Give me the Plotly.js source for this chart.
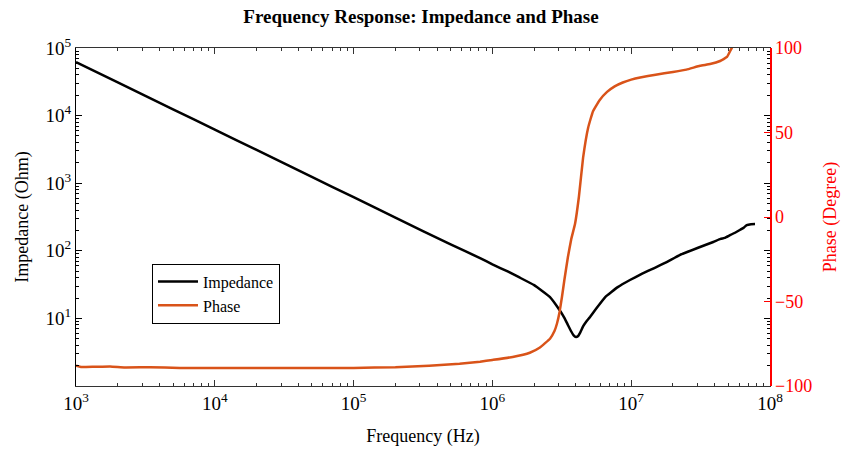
<!DOCTYPE html>
<html>
<head>
<meta charset="utf-8">
<script src="https://cdn.plot.ly/plotly-3.0.1.min.js"></script>
<style>html,body{margin:0;padding:0;background:#fff;}#chart{width:842px;height:454px;}</style>
</head>
<body>
<div id="chart"></div>
<script>
// Impedance magnitude (Ohm) vs frequency (Hz)
const impFreq = [1e3, 2e3, 5e3, 1e4, 2e4, 5e4, 1e5, 2e5, 5e5, 8.15e5, 1.0e6, 1.3e6, 1.58e6, 2.0e6, 2.6e6, 3.07e6, 3.3e6, 3.5e6, 3.7e6, 3.85e6, 4.0e6, 4.15e6, 4.3e6, 4.5e6, 4.75e6, 5.05e6, 5.6e6, 6.5e6, 8.0e6, 9.8e6, 1.2e7, 1.48e7, 1.8e7, 2.25e7, 3.0e7, 3.9e7, 4.4e7, 4.7e7, 5.15e7, 5.6e7, 6.1e7, 6.5e7, 6.8e7, 7.3e7, 7.8e7];
const impVal  = [62000, 31000, 12400, 6200, 3100, 1240, 620, 310, 124, 78, 63, 49, 40, 31, 20.7, 13, 10.2, 8.0, 6.4, 5.6, 5.3, 5.5, 6.2, 7.6, 9.0, 10.5, 14, 20.7, 29, 37, 46, 56, 68, 87, 110, 135, 150, 155, 170, 185, 205, 222, 240, 248, 249];
// Phase (degree) vs frequency (Hz)
const phFreq = [1e3, 1.1e3, 1.37e3, 1.76e3, 2.25e3, 3.4e3, 5.6e3, 1e4, 3e4, 1e5, 2e5, 3.5e5, 5.8e5, 8.15e5, 1e6, 1.4e6, 1.86e6, 2.2e6, 2.6e6, 2.8e6, 2.92e6, 3.05e6, 3.17e6, 3.3e6, 3.5e6, 3.7e6, 3.94e6, 4.2e6, 4.5e6, 4.9e6, 5.3e6, 5.9e6, 6.7e6, 7.6e6, 8.7e6, 1.0e7, 1.16e7, 1.5e7, 2.0e7, 2.5e7, 3.13e7, 3.7e7, 4.37e7, 4.9e7, 5.3e7, 5.8e7, 7.8e7];
const phVal  = [-88.0, -88.8, -88.6, -88.4, -89.0, -88.9, -89.3, -89.4, -89.4, -89.3, -88.9, -88.0, -86.8, -85.6, -84.6, -82.8, -80.3, -77.2, -72.0, -67.5, -63.0, -56.0, -47.3, -37.3, -23.7, -13, -4, 12, 35, 53, 62.5, 69, 74, 77.3, 79.6, 81.3, 82.6, 84.2, 85.8, 87.2, 89.5, 90.5, 92.3, 94.7, 100, 105, 110];

const xTicks = [1e3, 1e4, 1e5, 1e6, 1e7, 1e8];
const xTickText = ['10<sup>3</sup>', '10<sup>4</sup>', '10<sup>5</sup>', '10<sup>6</sup>', '10<sup>7</sup>', '10<sup>8</sup>'];
const yTicks = [1e1, 1e2, 1e3, 1e4, 1e5];
const yTickText = ['10<sup>1</sup>', '10<sup>2</sup>', '10<sup>3</sup>', '10<sup>4</sup>', '10<sup>5</sup>'];
const y2Ticks = [-100, -50, 0, 50, 100];

function minorLog(lo, hi) {
  const out = [];
  for (let e = lo; e < hi; e++) for (let m = 2; m <= 9; m++) out.push(m * Math.pow(10, e));
  return out;
}

const FONT = 'Liberation Serif, Times New Roman, serif';
const ORANGE = '#D95319';
const RED = '#FF0000';

const traces = [
  // empty helper trace so the minor-tick overlay axes are drawn
  {x: [], y: [], type: 'scatter', mode: 'lines', xaxis: 'x2', yaxis: 'y3', showlegend: false, hoverinfo: 'skip'},
  {x: impFreq, y: impVal, name: 'Impedance', type: 'scatter', mode: 'lines',
   line: {color: '#000000', width: 2.5, shape: 'spline', smoothing: 0.3}, xaxis: 'x', yaxis: 'y'},
  {x: phFreq, y: phVal, name: 'Phase', type: 'scatter', mode: 'lines',
   line: {color: ORANGE, width: 2.5, shape: 'spline', smoothing: 0.3}, xaxis: 'x', yaxis: 'y2'}
];

const layout = {
  width: 842, height: 454,
  margin: {l: 76, r: 72, t: 48, b: 68},
  paper_bgcolor: '#fff', plot_bgcolor: '#fff',
  font: {family: FONT, size: 18, color: '#000'},
  title: {text: '<b>Frequency Response: Impedance and Phase</b>', x: 0.5, xanchor: 'center', y: 0.978, yanchor: 'top',
          font: {family: FONT, size: 19, color: '#000'}},
  showlegend: true,
  legend: {x: 0.1095, y: 0.362, xanchor: 'left', yanchor: 'top', bgcolor: '#fff', bordercolor: '#000', borderwidth: 1,
           font: {family: FONT, size: 16, color: '#000'}, tracegroupgap: 0, itemwidth: 40},
  xaxis: {type: 'log', range: [3, 8], tickvals: xTicks, ticktext: xTickText, ticks: 'inside', ticklen: 6,
          tickcolor: '#333', showline: true, linecolor: '#333', linewidth: 1, mirror: 'ticks', showgrid: false, zeroline: false,
          tickfont: {family: FONT, size: 19, color: '#000'},
          title: {text: 'Frequency (Hz)', font: {family: FONT, size: 18, color: '#000'}, standoff: 16}},
  xaxis2: {type: 'log', range: [3, 8], overlaying: 'x', side: 'bottom', anchor: 'y', tickvals: minorLog(3, 8),
           ticks: 'inside', ticklen: 3, tickcolor: '#333', showticklabels: false, showline: false, mirror: 'ticks',
           showgrid: false, zeroline: false},
  yaxis: {type: 'log', range: [0, 5], tickvals: yTicks, ticktext: yTickText, ticks: 'inside', ticklen: 6,
          tickcolor: '#000', showline: true, linecolor: '#000', linewidth: 1, mirror: 'ticks', showgrid: false, zeroline: false,
          tickfont: {family: FONT, size: 19, color: '#000'},
          title: {text: 'Impedance (Ohm)', font: {family: FONT, size: 18, color: '#000'}, standoff: 12}},
  yaxis3: {type: 'log', range: [0, 5], overlaying: 'y', side: 'left', anchor: 'x', tickvals: minorLog(0, 5),
           ticks: 'inside', ticklen: 3, tickcolor: '#000', showticklabels: false, showline: false, mirror: 'ticks',
           showgrid: false, zeroline: false},
  yaxis2: {overlaying: 'y', side: 'right', anchor: 'x', range: [-100, 100], tickvals: y2Ticks, ticks: 'inside', ticklen: 6,
           tickcolor: RED, showline: true, linecolor: RED, linewidth: 1.5, showgrid: false, zeroline: false,
           tickfont: {family: FONT, size: 18, color: RED},
           title: {text: 'Phase (Degree)', font: {family: FONT, size: 18, color: RED}, standoff: 12}}
};

Plotly.newPlot('chart', traces, layout, {displayModeBar: false, staticPlot: true});
</script>
</body>
</html>
